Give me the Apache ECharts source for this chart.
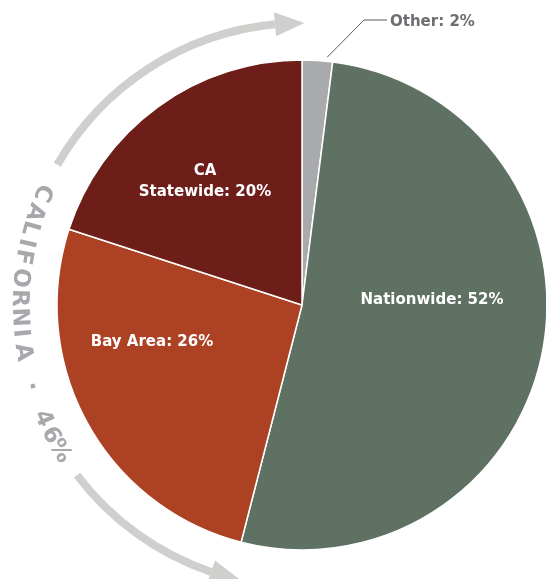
<!DOCTYPE html>
<html>
<head>
<meta charset="utf-8">
<script src="https://cdn.jsdelivr.net/npm/echarts@6/dist/echarts.min.js"></script>
<style>
html,body{margin:0;padding:0;background:#fff;}
#chart{width:546px;height:579px;}
</style>
</head>
<body>
<div id="chart"></div>
<script>
// ---- data ----
const categories = ['Other', 'Nationwide', 'Bay Area', 'CA\nStatewide'];
const shares = [2, 52, 26, 20];
const ringLabel = 'CALIFORNIA · 46%';

// ---- style / layout ----
const colors = ['#a8aaad', '#5e7163', '#ad4124', '#6e1e19'];
const cx = 302, cy = 305, R = 245;
const labelAnchors = [
  {x: 390, y: 22, align: 'left'},
  {x: 432, y: 300, align: 'center'},
  {x: 152, y: 342, align: 'center'},
  {x: 205, y: 182, align: 'center'}
];
const ringR = 283;
const ringAngles = [203.4, 199.2, 195.8, 192.7, 189.8, 185.5, 181.4, 177.5, 174.3, 170.4, 166.8, 163.2, 159.6, 156.3, 152.6, 148.9];
const FONT = '"DejaVu Sans", sans-serif';

const rad = d => d * Math.PI / 180;
const pt = (a, r) => [cx + r * Math.cos(rad(a)), cy + r * Math.sin(rad(a))];

const graphics = [];
// ring text
ringLabel.split('').forEach((ch, i) => {
  if (ch === ' ') return;
  const a = ringAngles[i];
  const p = pt(a, ringR);
  const dirAng = Math.atan2(-Math.cos(rad(a)), Math.sin(rad(a)));
  graphics.push({
    type: 'text', x: p[0], y: p[1], rotation: -dirAng,
    style: {text: ch, fill: '#a6a8ab', font: 'bold 23px ' + FONT, align: 'center', verticalAlign: 'middle'}
  });
});
// arrows
const arrowColor = '#cfcfcd';
const arrowR = 282;
function arrow(a0, a1, tipA) {
  const lo = Math.min(a0, a1), hi = Math.max(a0, a1);
  graphics.push({
    type: 'arc',
    shape: {cx: cx, cy: cy, r: arrowR, startAngle: rad(lo), endAngle: rad(hi), clockwise: true},
    style: {stroke: arrowColor, lineWidth: 8, fill: null}
  });
  graphics.push({
    type: 'polygon',
    shape: {points: [pt(a1, arrowR - 12), pt(tipA, arrowR), pt(a1, arrowR + 12)]},
    style: {fill: arrowColor}
  });
}
arrow(209.8, 264.5, 270.5);
arrow(142.9, 108.8, 102.5);
// leader line for the small "Other" slice
graphics.push({
  type: 'polyline',
  shape: {points: [pt(275.8, R + 4), [364, 20], [387, 20]]},
  style: {stroke: '#58595b', lineWidth: 1, fill: null}
});

const chart = echarts.init(document.getElementById('chart'), null, {renderer: 'canvas'});
chart.setOption({
  animation: false,
  backgroundColor: '#fff',
  graphic: graphics,
  series: [{
    type: 'pie',
    center: [cx, cy],
    radius: R,
    startAngle: 90,
    clockwise: true,
    avoidLabelOverlap: false,
    itemStyle: {borderColor: '#fff', borderWidth: 1.5},
    label: {
      show: true,
      position: 'inside',
      color: '#fff',
      fontFamily: FONT,
      fontWeight: 'bold',
      fontSize: 15,
      lineHeight: 21,
      formatter: p => p.name + ': ' + p.value + '%'
    },
    labelLine: {show: false},
    labelLayout: p => {
      const a = labelAnchors[p.dataIndex];
      return {x: a.x, y: a.y, align: a.align, verticalAlign: 'middle'};
    },
    data: categories.map((c, i) => {
      const d = {name: c, value: shares[i], itemStyle: {color: colors[i]}};
      if (i === 0) {
        d.label = {position: 'outside', color: '#6d6e71'};
      }
      return d;
    })
  }]
});
</script>
</body>
</html>
